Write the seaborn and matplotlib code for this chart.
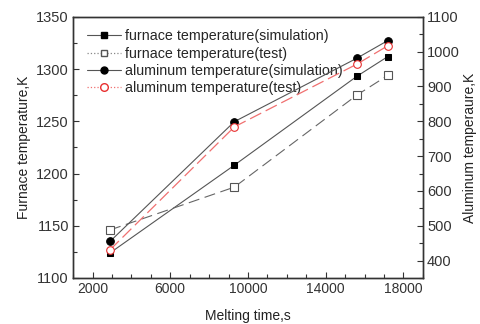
import matplotlib
matplotlib.use("Agg")
import matplotlib.pyplot as plt
from matplotlib.lines import Line2D
from matplotlib.ticker import MultipleLocator, FixedLocator
import seaborn as sns
import pandas as pd

time_s = [2900, 9300, 15600, 17200]
furnace_sim = [1124, 1208, 1293, 1312]
furnace_test = [1146, 1187, 1275, 1294]
alu_sim = [455, 799, 981, 1032]
alu_test = [431, 784, 964, 1017]

labels = ["furnace temperature(simulation)", "furnace temperature(test)",
          "aluminum temperature(simulation)", "aluminum temperature(test)"]

sns.set_style("ticks")
plt.rcParams['font.family'] = ['Liberation Sans', 'DejaVu Sans']
plt.rcParams['xtick.direction'] = 'in'
plt.rcParams['ytick.direction'] = 'in'

fig = plt.figure(figsize=(4.81, 3.24), dpi=100)
ax = fig.add_axes([0.152, 0.142, 0.727, 0.806])
ax2 = ax.twinx()

df = pd.DataFrame({"t": time_s, "fs": furnace_sim, "ft": furnace_test,
                   "as": alu_sim, "at": alu_test})

line_grey = "#555555"
sns.lineplot(data=df, x="t", y="fs", ax=ax, color=line_grey, lw=0.8,
             marker="s", markersize=5, markerfacecolor="black",
             markeredgecolor="black")
sns.lineplot(data=df, x="t", y="ft", ax=ax, color="#666666", lw=0.8,
             marker="s", markersize=5.5, markerfacecolor="white",
             markeredgecolor="#555555", markeredgewidth=0.8)
ax.lines[-1].set_dashes((10, 5))
sns.lineplot(data=df, x="t", y="as", ax=ax2, color=line_grey, lw=0.8,
             marker="o", markersize=5.5, markerfacecolor="black",
             markeredgecolor="black")
sns.lineplot(data=df, x="t", y="at", ax=ax2, color="#f07070", lw=0.9,
             marker="o", markersize=5.5, markerfacecolor="white",
             markeredgecolor="#e83030", markeredgewidth=0.8)
ax2.lines[-1].set_dashes((10, 4))

ax.set_xlim(1000, 19000)
ax.set_ylim(1100, 1350)
ax2.set_ylim(350, 1100)

ax.xaxis.set_major_locator(FixedLocator([2000, 6000, 10000, 14000, 18000]))
ax.xaxis.set_minor_locator(MultipleLocator(1000))
ax.yaxis.set_major_locator(MultipleLocator(50))
ax.yaxis.set_minor_locator(MultipleLocator(25))
ax2.yaxis.set_major_locator(FixedLocator([400, 500, 600, 700, 800, 900, 1000, 1100]))
ax2.yaxis.set_minor_locator(MultipleLocator(50))

for a in (ax, ax2):
    a.tick_params(which='major', length=4, width=0.8, colors='#333333', labelsize=10.5, pad=3)
    a.tick_params(which='minor', length=3, width=0.8, colors='#333333')
    for s in a.spines.values():
        s.set_color('#333333')
        s.set_linewidth(1.0)
ax.tick_params(axis='x', labelsize=10)

ax.set_xlabel("Melting time,s", fontsize=10, color='#222222', labelpad=9)
ax.set_ylabel("Furnace temperature,K", fontsize=10, color='#222222', labelpad=4)
ax2.set_ylabel("Aluminum temperaure,K", fontsize=10, color='#222222', labelpad=2)

handles = [
    Line2D([], [], color=line_grey, lw=0.8, marker="s", markersize=5,
           markerfacecolor="black", markeredgecolor="black"),
    Line2D([], [], color="#888888", lw=0.9, ls=":", marker="s", markersize=5,
           markerfacecolor="white", markeredgecolor="#555555"),
    Line2D([], [], color=line_grey, lw=0.8, marker="o", markersize=5,
           markerfacecolor="black", markeredgecolor="black"),
    Line2D([], [], color="#f07070", lw=0.9, ls=":", marker="o", markersize=5.5,
           markerfacecolor="white", markeredgecolor="#e83030"),
]
ax.legend(handles, labels, loc="upper left", frameon=False, fontsize=10.3,
          handlelength=2.4, handletextpad=0.3, labelspacing=0.22,
          borderaxespad=0.3, bbox_to_anchor=(0.01, 0.99))

fig.savefig("out.png", dpi=100)
